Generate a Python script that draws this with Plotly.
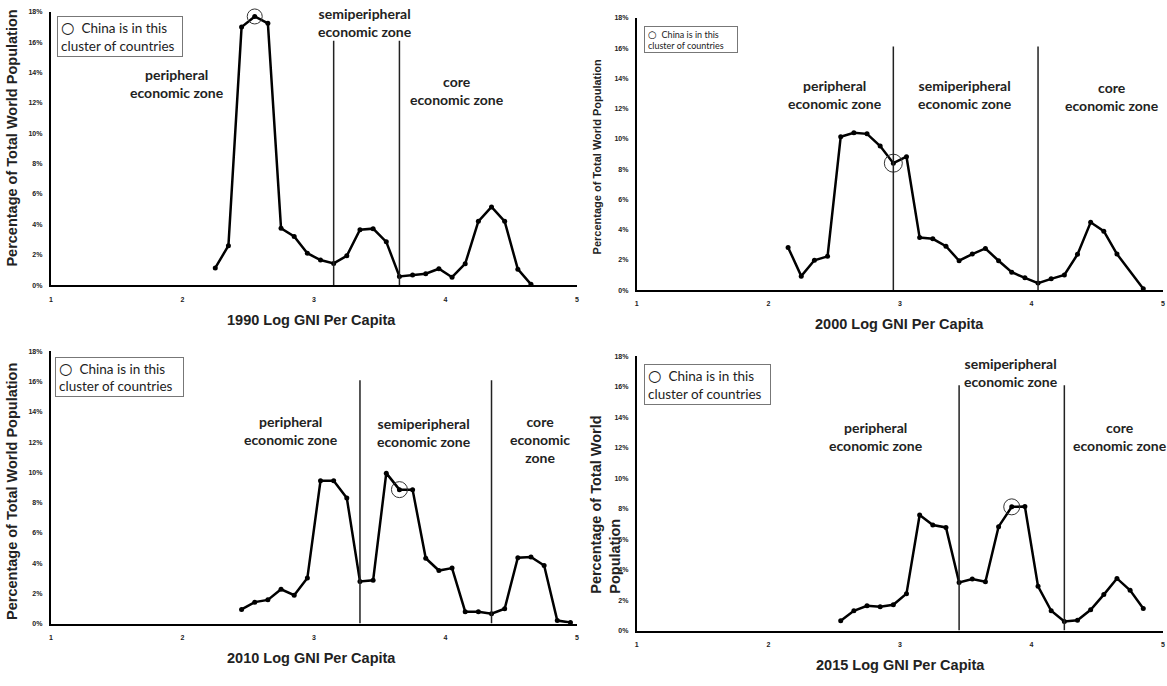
import plotly.graph_objects as go

# ---------------- data ----------------
years = ["1990", "2000", "2010", "2015"]

x1990 = [2.25, 2.35, 2.45, 2.55, 2.65, 2.75, 2.85, 2.95, 3.05, 3.15, 3.25, 3.35, 3.45,
         3.55, 3.65, 3.75, 3.85, 3.95, 4.05, 4.15, 4.25, 4.35, 4.45, 4.55, 4.65]
y1990 = [1.13, 2.6, 17.0, 17.7, 17.25, 3.74, 3.2, 2.1, 1.65, 1.43, 1.93, 3.65, 3.72,
         2.85, 0.57, 0.67, 0.75, 1.08, 0.52, 1.41, 4.2, 5.15, 4.2, 1.05, 0.05]

x2000 = [2.15, 2.25, 2.35, 2.45, 2.55, 2.65, 2.75, 2.85, 2.95, 3.05, 3.15, 3.25, 3.35, 3.45,
         3.55, 3.65, 3.75, 3.85, 3.95, 4.05, 4.15, 4.25, 4.35, 4.45, 4.55, 4.65, 4.85]
y2000 = [2.82, 0.92, 1.97, 2.23, 10.14, 10.4, 10.33, 9.52, 8.39, 8.82, 3.47, 3.39, 2.9, 1.94,
         2.38, 2.75, 1.94, 1.18, 0.81, 0.46, 0.74, 1.0, 2.36, 4.48, 3.89, 2.38, 0.09]

x2010 = [2.45, 2.55, 2.65, 2.75, 2.85, 2.95, 3.05, 3.15, 3.25, 3.35, 3.45, 3.55, 3.65,
         3.75, 3.85, 3.95, 4.05, 4.15, 4.25, 4.35, 4.45, 4.55, 4.65, 4.75, 4.85, 4.95]
y2010 = [0.94, 1.42, 1.57, 2.27, 1.88, 3.01, 9.45, 9.45, 8.31, 2.79, 2.86, 9.95, 8.86,
         8.86, 4.32, 3.51, 3.67, 0.79, 0.79, 0.65, 0.98, 4.36, 4.41, 3.84, 0.2, 0.07]

x2015 = [2.55, 2.65, 2.75, 2.85, 2.95, 3.05, 3.15, 3.25, 3.35, 3.45, 3.55, 3.65,
         3.75, 3.85, 3.95, 4.05, 4.15, 4.25, 4.35, 4.45, 4.55, 4.65, 4.75, 4.85]
y2015 = [0.65, 1.3, 1.62, 1.56, 1.69, 2.42, 7.58, 6.93, 6.77, 3.16, 3.38, 3.2,
         6.82, 8.12, 8.14, 2.9, 1.3, 0.6, 0.67, 1.36, 2.36, 3.42, 2.64, 1.45]

# x position of the bin that contains China, per year
china_x = [2.55, 2.95, 3.65, 3.85]

# zone boundaries (Log GNI per capita) per year
zones1990 = [3.15, 3.65]
zones2000 = [2.95, 4.05]
zones2010 = [3.35, 4.35]
zones2015 = [3.45, 4.25]
zone_top = 16.1

y_ticks = [0, 2, 4, 6, 8, 10, 12, 14, 16, 18]
y_tick_labels = ["0%", "2%", "4%", "6%", "8%", "10%", "12%", "14%", "16%", "18%"]
x_ticks = [1, 2, 3, 4, 5]
x_tick_labels = ["1", "2", "3", "4", "5"]

# ---------------- layout helpers ----------------
W, H = 1167, 686
def px(v):
    return v / W
def py(v):
    return 1 - v / H

# panel plot areas in pixels: (left, right, top, bottom)
areas = [(49, 577, 8, 284), (637, 1165, 14, 289), (49, 577, 351, 626), (637, 1165, 356, 633)]

series = [(x1990, y1990, zones1990), (x2000, y2000, zones2000),
          (x2010, y2010, zones2010), (x2015, y2015, zones2015)]
circle_sizes = [15, 18, 16, 16]

fig = go.Figure()
shapes = []
annotations = []

ARIAL = "Liberation Sans, Arial, sans-serif"
CAL = "Lato, Carlito, Calibri, sans-serif"

for i, (xs, ys, zones) in enumerate(series):
    n = "" if i == 0 else str(i + 1)
    xa, ya = "x" + n, "y" + n
    l, r, t, b = areas[i]
    fig.add_trace(go.Scatter(
        x=xs, y=ys, xaxis=xa, yaxis=ya, mode="lines+markers",
        line=dict(color="black", width=2.5),
        marker=dict(color="black", size=5),
        cliponaxis=False, showlegend=False, hoverinfo="x+y"))
    ci = xs.index(china_x[i])
    fig.add_trace(go.Scatter(
        x=[xs[ci]], y=[ys[ci]], xaxis=xa, yaxis=ya, mode="markers",
        marker=dict(symbol="circle-open", size=circle_sizes[i], color="#333",
                    line=dict(color="#333", width=1)),
        cliponaxis=False, showlegend=False, hoverinfo="skip"))
    for z in zones:
        shapes.append(dict(type="line", xref=xa, yref=ya, x0=z, x1=z, y0=0, y1=zone_top,
                           line=dict(color="#222", width=1.5), layer="above"))
    fig.layout["xaxis" + n] = dict(
        domain=[px(l), px(r)], range=[1, 5], anchor=ya,
        tickvals=x_ticks, ticktext=x_tick_labels, showgrid=False, zeroline=False, showline=True,
        linecolor="black", linewidth=2, ticks="",
        tickfont=dict(family=ARIAL, size=7, color="#222", weight="bold"),
        ticklabelstandoff=6)
    fig.layout["yaxis" + n] = dict(
        domain=[py(b), py(t)], range=[0, 18], anchor=xa,
        tickvals=y_ticks, ticktext=y_tick_labels, showgrid=False, zeroline=False, showline=True,
        linecolor="black", linewidth=2, ticks="",
        tickfont=dict(family=ARIAL, size=7, color="#222", weight="bold"),
        ticklabelstandoff=5)

# x-axis titles
xt = [(311, 319), (901, 323), (311, 661), (902, 668)]
for i, (cx, cy) in enumerate(xt):
    annotations.append(dict(text=f"{years[i]} Log GNI Per Capita", xref="paper", yref="paper",
                            x=px(cx), y=py(cy), xanchor="center", yanchor="middle",
                            showarrow=False,
                            font=dict(family=ARIAL, size=14.5, color="#222", weight="bold")))

# y-axis titles
ytitle = "Percentage of Total World Population"
annotations.append(dict(text=ytitle, xref="paper", yref="paper", x=px(10), y=py(135),
                        textangle=-90, showarrow=False, xanchor="center", yanchor="middle",
                        font=dict(family=ARIAL, size=14.5, color="#222", weight="bold")))
annotations.append(dict(text=ytitle, xref="paper", yref="paper", x=px(597), y=py(154),
                        textangle=-90, showarrow=False, xanchor="center", yanchor="middle",
                        font=dict(family=ARIAL, size=11, color="#222", weight="bold")))
annotations.append(dict(text=ytitle, xref="paper", yref="paper", x=px(10), y=py(492),
                        textangle=-90, showarrow=False, xanchor="center", yanchor="middle",
                        font=dict(family=ARIAL, size=14.5, color="#222", weight="bold")))
annotations.append(dict(text="Percentage of Total World<br>Population", xref="paper", yref="paper",
                        x=px(606), y=py(506), textangle=-90, showarrow=False, align="left",
                        xanchor="center", yanchor="middle",
                        font=dict(family=ARIAL, size=14.5, color="#222", weight="bold")))

# zone labels (data coords)
zone_labels = [
    [("peripheral<br>economic zone", 1.958, 13.3), ("semiperipheral<br>economic zone", 3.39, 17.3),
     ("core<br>economic zone", 4.09, 12.8)],
    [("peripheral<br>economic zone", 2.508, 12.9), ("semiperipheral<br>economic zone", 3.495, 12.9),
     ("core<br>economic zone", 4.615, 12.8)],
    [("peripheral<br>economic zone", 2.826, 12.8), ("semiperipheral<br>economic zone", 3.839, 12.65),
     ("core<br>economic<br>zone", 4.715, 12.2)],
    [("peripheral<br>economic zone", 2.82, 12.75), ("semiperipheral<br>economic zone", 3.843, 16.95),
     ("core<br>economic zone", 4.674, 12.75)],
]
for i, labs in enumerate(zone_labels):
    n = "" if i == 0 else str(i + 1)
    for txt, x, y in labs:
        annotations.append(dict(text=txt, xref="x" + n, yref="y" + n, x=x, y=y,
                                xanchor="center", yanchor="middle", showarrow=False,
                                font=dict(family=CAL, size=14, color="#222", weight="bold")))

# legend-like boxes
boxes = [((55, 181, 12, 53), 13.5), ((644, 738, 22, 49), 9), ((53, 182, 357, 397), 13.5),
         ((644, 771, 364, 405), 13.5)]
for (l, r, t, b), fs in boxes:
    circ = f"<span style='font-family:DejaVu Sans;font-size:{fs * 1.15:.1f}px'>○</span>"
    annotations.append(dict(text=f"{circ}  China is in this<br>cluster of countries",
                            xref="paper", yref="paper", x=px((l + r) / 2), y=py((t + b) / 2),
                            xanchor="center", yanchor="middle", showarrow=False, align="left",
                            bordercolor="#777", borderwidth=1, borderpad=3,
                            width=r - l - 8, height=b - t - 8,
                            font=dict(family=CAL, size=fs, color="#222")))

fig.update_layout(width=W, height=H, margin=dict(l=0, r=0, t=0, b=0),
                  paper_bgcolor="white", plot_bgcolor="white",
                  shapes=shapes, annotations=annotations, showlegend=False)

fig.write_html("out.html")
